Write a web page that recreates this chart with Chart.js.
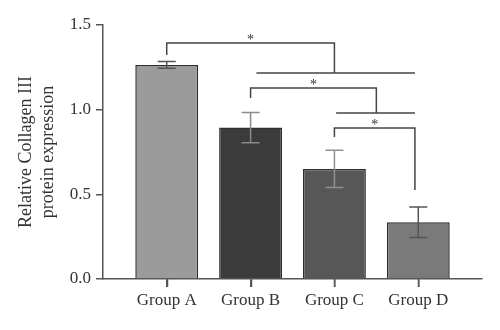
<!DOCTYPE html>
<html>
<head>
<meta charset="utf-8">
<script src="https://cdn.jsdelivr.net/npm/chart.js@4/dist/chart.umd.min.js"></script>
<style>
  html, body { margin: 0; padding: 0; background: #fff; }
  #wrap { width: 500px; height: 330px; }
</style>
</head>
<body>
<div id="wrap"><canvas id="chart"></canvas></div>
<script>
// data
const groups = ['Group A', 'Group B', 'Group C', 'Group D'];
const means = [1.264, 0.894, 0.65, 0.335];
const errors = [0.02, 0.09, 0.11, 0.09];
const yTicks = [0, 0.5, 1.0, 1.5];

const barColors = ['#9b9b9b', '#3b3b3b', '#575757', '#7a7a7a'];
const errColors = ['#555555', '#8a8a8a', '#909090', '#555555'];

// significance brackets (data units):
// left x, left foot y, top y, right x, right foot y, span start x, span end x
const brackets = [
    [0, 1.323, 1.394, 2, 1.217, 1.07, 2.96],
    [1, 1.069, 1.128, 2.5, 0.98, 2.02, 2.96],
    [2, 0.839, 0.892, 2.96, 0.526, null, null]
];

const serif = '"Liberation Serif", "DejaVu Serif", serif';

const annotations = {
    id: 'annotations',
    afterDatasetsDraw(chart) {
        const ctx = chart.ctx;
        const x = chart.scales.x;
        const y = chart.scales.y;
        ctx.save();

        // x tick marks under the axis
        ctx.lineWidth = 1.5;
        ctx.strokeStyle = '#555';
        ctx.beginPath();
        groups.forEach((g, i) => {
            const px = Math.round(x.getPixelForValue(i)) + 0.5;
            ctx.moveTo(px, y.bottom);
            ctx.lineTo(px, y.bottom + 8);
        });
        ctx.stroke();

        // error bars
        means.forEach((m, i) => {
            const px = x.getPixelForValue(i);
            const top = y.getPixelForValue(m + errors[i]);
            const bot = y.getPixelForValue(m - errors[i]);
            ctx.strokeStyle = errColors[i];
            ctx.beginPath();
            ctx.moveTo(px, top); ctx.lineTo(px, bot);
            ctx.moveTo(px - 9, top); ctx.lineTo(px + 9, top);
            ctx.moveTo(px - 9, bot); ctx.lineTo(px + 9, bot);
            ctx.stroke();
        });

        // brackets + stars
        ctx.strokeStyle = '#444';
        ctx.fillStyle = '#333';
        ctx.font = '14px ' + serif;
        ctx.textAlign = 'center';
        ctx.textBaseline = 'bottom';
        brackets.forEach(b => {
            const [lx, ly, ty, rx, ry, s1, s2] = b;
            ctx.beginPath();
            ctx.moveTo(x.getPixelForValue(lx), y.getPixelForValue(ly));
            ctx.lineTo(x.getPixelForValue(lx), y.getPixelForValue(ty));
            ctx.lineTo(x.getPixelForValue(rx), y.getPixelForValue(ty));
            ctx.lineTo(x.getPixelForValue(rx), y.getPixelForValue(ry));
            if (s1 !== null) {
                ctx.moveTo(x.getPixelForValue(s1), y.getPixelForValue(ry));
                ctx.lineTo(x.getPixelForValue(s2), y.getPixelForValue(ry));
            }
            ctx.stroke();
            ctx.fillText('*', x.getPixelForValue((lx + rx) / 2), y.getPixelForValue(ty) + 4);
        });
        ctx.restore();
    }
};

new Chart(document.getElementById('chart'), {
    type: 'bar',
    data: {
        datasets: [{
            data: means.map((m, i) => ({ x: i, y: m })),
            backgroundColor: barColors,
            borderColor: '#2e2e2e',
            borderWidth: 1.5,
            barPercentage: 0.75,
            categoryPercentage: 1
        }]
    },
    options: {
        responsive: true,
        maintainAspectRatio: false,
        animation: false,
        layout: { padding: { top: 25, right: 18, left: 0, bottom: 0 } },
        plugins: {
            legend: { display: false },
            tooltip: { enabled: false }
        },
        scales: {
            x: {
                type: 'linear',
                offset: false,
                min: -0.76,
                max: 3.76,
                afterBuildTicks: s => { s.ticks = groups.map((g, i) => ({ value: i })); },
                afterFit: s => { s.height = 51; },
                grid: { offset: false, drawOnChartArea: false, drawTicks: true, tickLength: 8, color: '#555', lineWidth: 1.5 },
                border: { color: '#555', width: 1.5 },
                ticks: {
                    callback: v => groups[v],
                    color: '#333',
                    font: { family: serif, size: 17 },
                    padding: 3,
                    maxRotation: 0,
                    autoSkip: false
                }
            },
            y: {
                min: 0,
                max: 1.5,
                afterBuildTicks: s => { s.ticks = yTicks.map(v => ({ value: v })); },
                afterFit: s => { s.width = 103; },
                grid: { drawOnChartArea: false, drawTicks: true, tickLength: 7, color: '#555', lineWidth: 1.5 },
                border: { color: '#555', width: 1.5 },
                ticks: {
                    callback: v => v.toFixed(1),
                    color: '#333',
                    font: { family: serif, size: 17 },
                    padding: 5
                },
                title: {
                    display: true,
                    text: ['Relative Collagen III', 'protein expression'],
                    color: '#333',
                    font: { family: serif, size: 18, lineHeight: 1.25 },
                    padding: { top: 15, bottom: 0 }
                }
            }
        }
    },
    plugins: [annotations]
});
</script>
</body>
</html>
